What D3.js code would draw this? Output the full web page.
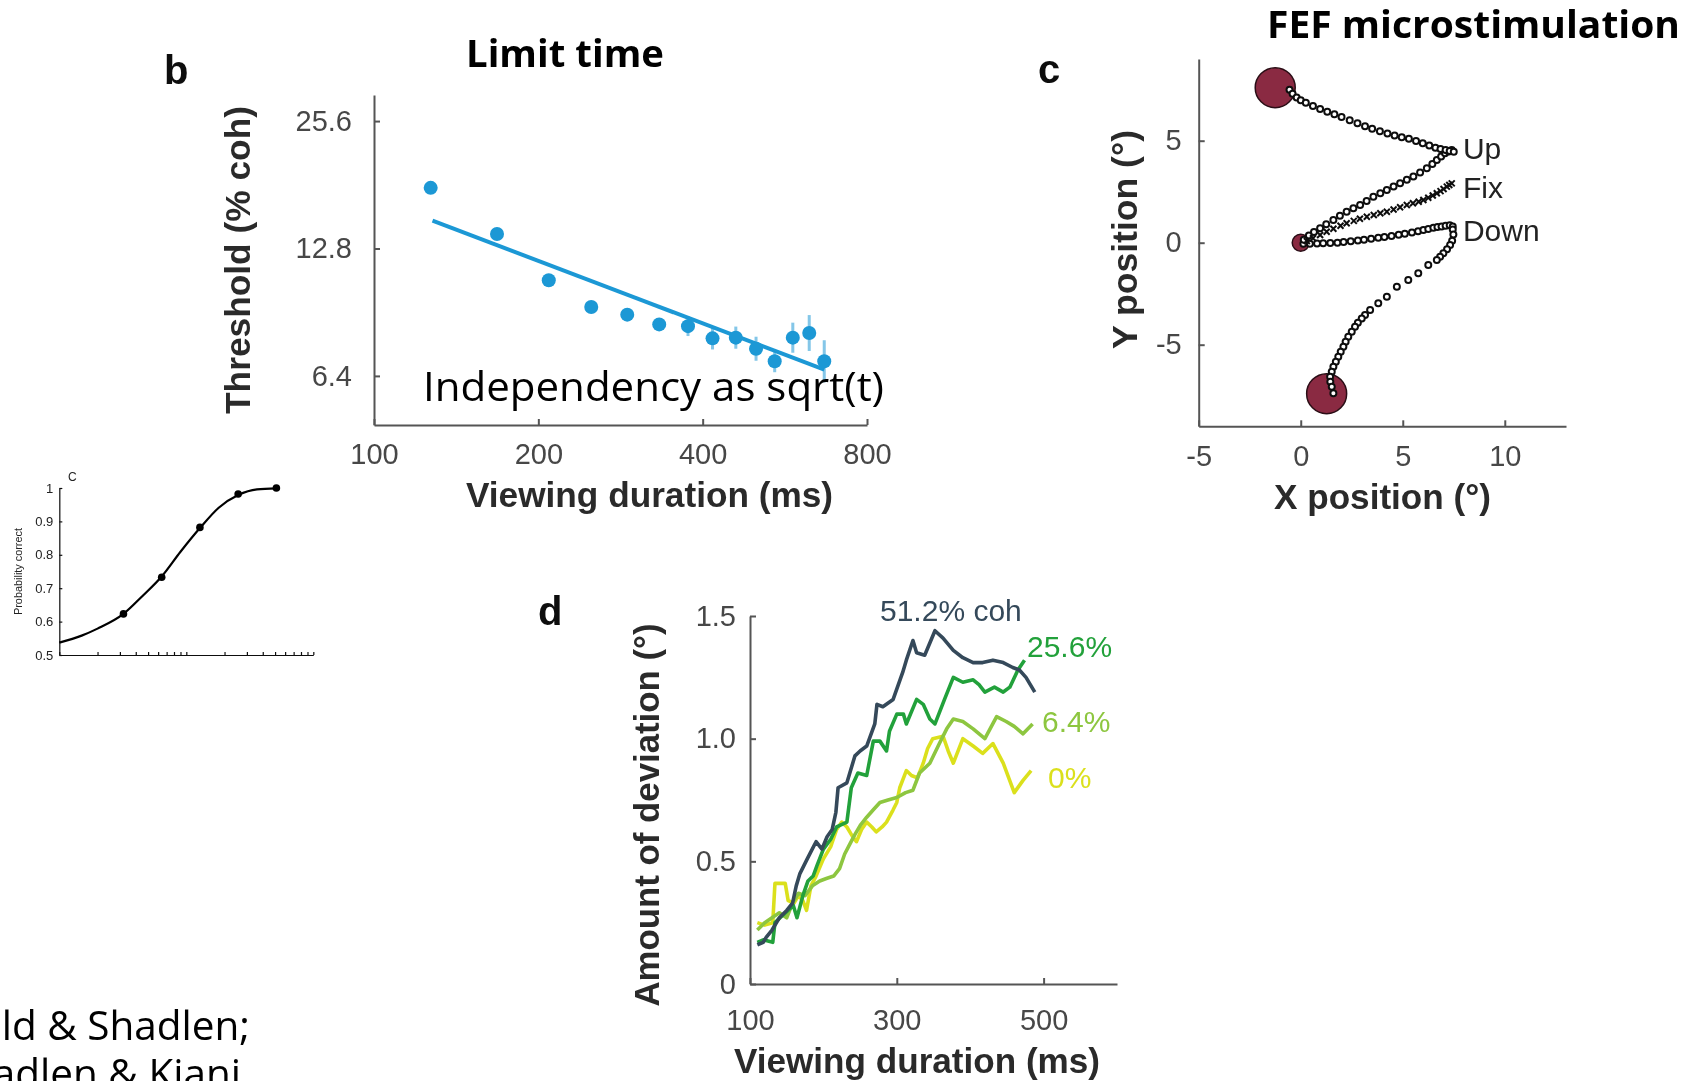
<!DOCTYPE html>
<html>
<head>
<meta charset="utf-8">
<script src="https://cdn.jsdelivr.net/npm/d3@7"></script>
<style>
  body { margin: 0; background: #fff; }
  svg { display: block; }
</style>
</head>
<body>
<svg id="fig" width="1700" height="1081"></svg>
<script>
// ---------- Panel b: threshold vs viewing duration (log-log) ----------
const bTickX = [100, 200, 400, 800];
const bTickY = [6.4, 12.8, 25.6];
const thresholdDur = [127, 168, 209, 250, 291, 333, 376, 417, 460, 501, 542, 585, 627, 668];
const thresholdCoh = [17.8, 13.85, 10.77, 9.31, 8.93, 8.47, 8.39, 7.85, 7.88, 7.42, 6.93, 7.88, 8.08, 6.93];
const thresholdLo  = [17.3, 13.45, 10.45, 9.03, 8.66, 8.21, 7.95, 7.39, 7.42, 6.95, 6.53, 7.26, 7.33, 6.18];
const thresholdHi  = [18.3, 14.25, 11.09, 9.59, 9.20, 8.73, 8.86, 8.34, 8.37, 7.92, 7.36, 8.55, 8.91, 7.77];
const fitDur = [128, 668];
const fitCoh = [14.9, 6.62];

// ---------- Panel C (small): psychometric function ----------
const psyCoh = [3.2, 6.4, 12.8, 25.6, 51.2];
const psyCorrect = [0.623, 0.733, 0.882, 0.982, 1.0];
const psyFitCoh = [1, 1.5, 2, 3.2, 4.5, 6.4, 9, 12.8, 18, 25.6, 36, 51.2];
const psyFitCorrect = [0.537, 0.558, 0.579, 0.623, 0.676, 0.735, 0.809, 0.880, 0.941, 0.979, 0.996, 0.999];
const psyTickY = [0.5, 0.6, 0.7, 0.8, 0.9, 1];
const psyTickX = [1, 2, 3, 4, 5, 6, 7, 8, 9, 10, 20, 30, 40, 50, 60, 70, 80, 90, 100];

// ---------- Panel c: FEF microstimulation eye trajectories ----------
const cTickX = [-5, 0, 5, 10];
const cTickY = [-5, 0, 5];
const targetX = [-1.25, 1.27, 0];
const targetY = [7.6, -7.4, 0];
const targetKind = ["target", "target", "fixation"];
const trajUpTarget = [[-0.55,7.5],[-0.4,7.3],[-0.2,7.12],[0.0,6.98],[0.25,6.86],[0.6,6.7],[0.95,6.55],[1.3,6.42],[1.65,6.3],[2.0,6.16],[2.4,6.0],[2.78,5.85],[3.15,5.71],[3.5,5.58],[3.88,5.46],[4.25,5.35],[4.6,5.26],[4.95,5.17],[5.3,5.09],[5.65,4.98],[5.98,4.87],[6.3,4.76],[6.6,4.66],[6.85,4.59],[7.1,4.54],[7.3,4.5],[7.5,4.46]];
const trajUp = [[0.15,0.15],[0.4,0.35],[0.65,0.52],[0.95,0.71],[1.25,0.9],[1.6,1.11],[1.92,1.32],[2.25,1.52],[2.58,1.69],[2.91,1.85],[3.23,2.05],[3.56,2.25],[3.9,2.42],[4.22,2.58],[4.55,2.75],[4.87,2.91],[5.2,3.08],[5.52,3.24],[5.85,3.44],[6.18,3.65],[6.45,3.86],[6.67,4.05],[6.88,4.22],[7.07,4.38],[7.25,4.47],[7.4,4.54]];
const trajFix = [[0.3,0.08],[0.6,0.22],[0.95,0.38],[1.27,0.54],[1.6,0.68],[1.95,0.83],[2.25,0.95],[2.6,1.07],[2.9,1.17],[3.24,1.27],[3.58,1.36],[3.9,1.44],[4.22,1.52],[4.55,1.63],[4.87,1.74],[5.2,1.85],[5.5,1.93],[5.78,2.01],[6.01,2.09],[6.25,2.2],[6.47,2.31],[6.67,2.42],[6.85,2.53],[7.0,2.63],[7.16,2.75],[7.28,2.83],[7.4,2.91]];
const trajDown = [[0.13,-0.05],[0.45,-0.05],[0.8,-0.04],[1.1,-0.03],[1.45,-0.02],[1.8,0.0],[2.1,0.03],[2.45,0.07],[2.8,0.11],[3.1,0.15],[3.45,0.19],[3.8,0.24],[4.1,0.28],[4.45,0.33],[4.8,0.39],[5.1,0.44],[5.45,0.5],[5.75,0.56],[6.01,0.62],[6.25,0.67],[6.5,0.73],[6.7,0.77],[6.9,0.8],[7.1,0.83],[7.3,0.85],[7.45,0.8]];
const trajDownTarget = [[7.45,0.65],[7.48,0.4],[7.42,0.1],[7.32,-0.11],[7.17,-0.32],[6.99,-0.52],[6.83,-0.69],[6.67,-0.85],[6.25,-1.09],[5.76,-1.5],[5.27,-1.83],[4.71,-2.16],[4.22,-2.65],[3.8,-2.97],[3.4,-3.3],[3.15,-3.55],[2.99,-3.71],[2.8,-3.93],[2.66,-4.12],[2.5,-4.37],[2.33,-4.61],[2.2,-4.85],[2.09,-5.1],[1.96,-5.35],[1.84,-5.59],[1.72,-5.83],[1.6,-6.08],[1.52,-6.33],[1.44,-6.57],[1.45,-6.82],[1.52,-7.06],[1.6,-7.38]];
const trajLabels = ["Up", "Fix", "Down"];
const trajLabelY = [4.1, 2.2, 0.1];

// ---------- Panel d: deviation vs viewing duration ----------
const dTickX = [100, 300, 500];
const dTickY = [0, 0.5, 1.0, 1.5];
const cohNames = ["51.2% coh", "25.6%", "6.4%", "0%"];
const coh512 = [[110,0.16],[118,0.17],[122,0.19],[130,0.22],[140,0.27],[150,0.30],[158,0.33],[163,0.40],[168,0.45],[178,0.51],[190,0.58],[198,0.55],[205,0.60],[212,0.63],[217,0.70],[220,0.80],[232,0.82],[243,0.93],[250,0.95],[259,0.97],[270,1.06],[273,1.14],[281,1.13],[295,1.16],[308,1.27],[313,1.32],[322,1.40],[327,1.35],[338,1.34],[352,1.44],[363,1.41],[377,1.36],[390,1.33],[404,1.31],[417,1.31],[431,1.32],[445,1.31],[458,1.29],[467,1.28],[476,1.25],[488,1.19]];
const coh256 = [[110,0.17],[118,0.18],[131,0.17],[134,0.25],[141,0.27],[148,0.29],[159,0.32],[164,0.27],[172,0.36],[179,0.42],[186,0.44],[191,0.48],[200,0.55],[210,0.59],[218,0.64],[232,0.66],[238,0.80],[247,0.86],[259,0.85],[268,0.99],[277,0.99],[286,0.95],[290,1.03],[300,1.10],[309,1.10],[313,1.06],[327,1.16],[336,1.14],[345,1.08],[352,1.06],[365,1.16],[377,1.25],[390,1.23],[404,1.24],[412,1.22],[420,1.19],[433,1.21],[445,1.19],[454,1.21],[465,1.28],[474,1.32]];
const coh64 = [[110,0.22],[120,0.25],[130,0.27],[140,0.29],[150,0.27],[158,0.33],[166,0.37],[175,0.36],[185,0.40],[195,0.42],[204,0.43],[214,0.44],[222,0.47],[229,0.53],[236,0.57],[243,0.61],[251,0.65],[259,0.68],[268,0.71],[277,0.74],[288,0.75],[300,0.76],[312,0.78],[322,0.79],[331,0.86],[345,0.90],[358,0.98],[368,1.04],[377,1.08],[390,1.07],[404,1.04],[420,1.00],[436,1.09],[449,1.07],[460,1.05],[472,1.02],[485,1.06]];
const coh0 = [[110,0.25],[120,0.24],[131,0.25],[134,0.41],[148,0.41],[152,0.34],[160,0.33],[166,0.36],[172,0.34],[177,0.30],[183,0.40],[190,0.44],[200,0.51],[210,0.56],[218,0.63],[225,0.66],[232,0.64],[240,0.60],[245,0.58],[252,0.63],[259,0.66],[266,0.64],[272,0.62],[280,0.64],[286,0.66],[295,0.71],[300,0.74],[304,0.80],[313,0.87],[320,0.85],[328,0.84],[336,0.90],[342,0.96],[349,1.00],[363,1.01],[370,0.95],[377,0.90],[390,1.00],[404,0.97],[417,0.94],[431,0.98],[445,0.90],[460,0.78],[472,0.83],[483,0.87]];

// ---------- drawing ----------
const svg = d3.select("#fig");
const AX = "'Liberation Sans', Arial, Helvetica, sans-serif";
const SLIDE = "'Open Sans', 'Noto Sans', sans-serif";
const plain = d => String(d);   // hyphen-minus for negative ticks

svg.append("defs").append("filter").attr("id", "soft")
  .attr("x", "-5%").attr("y", "-5%").attr("width", "110%").attr("height", "110%")
  .append("feGaussianBlur").attr("stdDeviation", 0.7);

function styleAxis(g, fontSize, color, lineColor, lineWidth) {
  g.select(".domain").attr("stroke", lineColor).attr("stroke-width", lineWidth);
  g.selectAll(".tick line").attr("stroke", lineColor).attr("stroke-width", lineWidth);
  g.selectAll(".tick text").attr("font-family", AX).attr("font-size", fontSize).attr("fill", color);
}

function label(parent, txt, x, y, opts) {
  const t = parent.append("text").attr("x", x).attr("y", y).text(txt)
    .attr("font-family", opts.family || AX)
    .attr("font-size", opts.size)
    .attr("font-weight", opts.weight || "normal")
    .attr("fill", opts.fill || "#222")
    .attr("text-anchor", opts.anchor || "start");
  if (opts.len) t.attr("textLength", opts.len).attr("lengthAdjust", "spacingAndGlyphs");
  if (opts.rotate) t.attr("transform", `rotate(${opts.rotate},${x},${y})`);
  return t;
}

// ---- Panel b ----
const gB = svg.append("g").attr("filter", "url(#soft)");
const bX = d3.scaleLog().domain([100, 800]).range([374, 867]);
const bY = d3.scaleLog().domain([4.9, 29.5]).range([425, 95]);
const blue = "#1b98d5";

gB.append("g").attr("transform", "translate(0,425)")
  .call(d3.axisBottom(bX).tickValues(bTickX).tickFormat(plain)
    .tickSizeInner(-6).tickSizeOuter(0).tickPadding(18))
  .call(g => styleAxis(g, 29, "#474747", "#555", 2));
gB.append("g").attr("transform", "translate(374,0)")
  .call(d3.axisLeft(bY).tickValues(bTickY).tickFormat(d3.format(".1f"))
    .tickSizeInner(-6).tickSizeOuter(0).tickPadding(22))
  .call(g => styleAxis(g, 29, "#474747", "#555", 2));

gB.append("path")
  .datum(fitDur.map((t, i) => [t, fitCoh[i]]))
  .attr("d", d3.line().x(d => bX(d[0])).y(d => bY(d[1])))
  .attr("fill", "none").attr("stroke", blue).attr("stroke-width", 4);

gB.append("g").selectAll("line").data(thresholdDur).join("line")
  .attr("x1", d => bX(d)).attr("x2", d => bX(d))
  .attr("y1", (d, i) => bY(thresholdLo[i])).attr("y2", (d, i) => bY(thresholdHi[i]))
  .attr("stroke", blue).attr("stroke-opacity", 0.55).attr("stroke-width", 3);
gB.append("g").selectAll("circle").data(thresholdDur).join("circle")
  .attr("cx", d => bX(d)).attr("cy", (d, i) => bY(thresholdCoh[i]))
  .attr("r", 7).attr("fill", blue);

label(gB, "b", 164, 84, { size: 40, weight: "bold", fill: "#111" });
label(gB, "Viewing duration (ms)", 649.5, 507, { size: 35, weight: "bold", fill: "#2b2b2b", anchor: "middle", len: 367 });
label(gB, "Threshold (% coh)", 250, 260, { size: 35, weight: "bold", fill: "#2b2b2b", anchor: "middle", len: 308, rotate: -90 });

// ---- Small panel C ----
const gS = svg.append("g").attr("filter", "url(#soft)");
const sX = d3.scaleLog().domain([1, 100]).range([59.3, 313.3]);
const sY = d3.scaleLinear().domain([0.5, 1]).range([655, 488]);

gS.append("g").attr("transform", "translate(0,655)")
  .call(d3.axisBottom(sX).tickValues(psyTickX).tickFormat("").tickSizeInner(-3).tickSizeOuter(0))
  .call(g => styleAxis(g, 13, "#222", "#111", 1.2));
gS.append("g").attr("transform", "translate(59.3,0)")
  .call(d3.axisLeft(sY).tickValues(psyTickY).tickFormat(d => d === 1 ? "1" : d3.format(".1f")(d))
    .tickSizeInner(-3).tickSizeOuter(0).tickPadding(6))
  .call(g => styleAxis(g, 13, "#222", "#111", 1.2));

gS.append("path")
  .datum(psyFitCoh.map((c, i) => [c, psyFitCorrect[i]]))
  .attr("d", d3.line().x(d => sX(d[0])).y(d => sY(d[1])).curve(d3.curveMonotoneX))
  .attr("fill", "none").attr("stroke", "#000").attr("stroke-width", 2.2);
gS.append("g").selectAll("circle").data(psyCoh).join("circle")
  .attr("cx", d => sX(d)).attr("cy", (d, i) => sY(psyCorrect[i]))
  .attr("r", 3.8).attr("fill", "#000");

label(gS, "C", 68, 481, { size: 12, fill: "#222" });
label(gS, "Probability correct", 22, 571.5, { size: 11, fill: "#222", anchor: "middle", len: 87, rotate: -90 });

// ---- Panel c ----
const gC = svg.append("g").attr("filter", "url(#soft)");
const cX = d3.scaleLinear().domain([-5, 13]).range([1198.7, 1566]);
const cY = d3.scaleLinear().domain([-9, 9]).range([426.3, 59.1]);

gC.append("g").attr("transform", "translate(0,426.3)")
  .call(d3.axisBottom(cX).tickValues(cTickX).tickFormat(plain)
    .tickSizeInner(-6).tickSizeOuter(0).tickPadding(19))
  .call(g => styleAxis(g, 29, "#474747", "#555", 2));
gC.append("g").attr("transform", "translate(1198.7,0)")
  .call(d3.axisLeft(cY).tickValues(cTickY).tickFormat(plain)
    .tickSizeInner(-6).tickSizeOuter(0).tickPadding(17))
  .call(g => styleAxis(g, 29, "#474747", "#555", 2));

const maroon = "#8a2a42";
gC.append("g").selectAll("circle").data(targetX).join("circle")
  .attr("cx", d => cX(d)).attr("cy", (d, i) => cY(targetY[i]))
  .attr("r", (d, i) => targetKind[i] === "target" ? 20 : 8.5)
  .attr("fill", maroon).attr("stroke", "#2a0f16").attr("stroke-width", 1.5);

function circleTrail(data) {
  gC.append("g").selectAll("circle").data(data).join("circle")
    .attr("cx", d => cX(d[0])).attr("cy", d => cY(d[1]))
    .attr("r", 3).attr("fill", "#fff").attr("stroke", "#111").attr("stroke-width", 2);
}
circleTrail(trajDown);
circleTrail(trajUp);
circleTrail(trajUpTarget);
circleTrail(trajDownTarget);
gC.append("g").selectAll("path").data(trajFix).join("path")
  .attr("transform", d => `translate(${cX(d[0])},${cY(d[1])})`)
  .attr("d", "M-3,-3L3,3M-3,3L3,-3")
  .attr("stroke", "#111").attr("stroke-width", 2);

gC.append("g").selectAll("text").data(trajLabels).join("text")
  .attr("x", cX(7.95)).attr("y", (d, i) => cY(trajLabelY[i]))
  .attr("font-family", AX).attr("font-size", 30).attr("fill", "#222")
  .text(d => d);

label(gC, "c", 1038, 83, { size: 40, weight: "bold", fill: "#111" });
label(gC, "X position (°)", 1382.5, 509, { size: 35, weight: "bold", fill: "#2b2b2b", anchor: "middle", len: 217 });
label(gC, "Y position (°)", 1137, 239.5, { size: 35, weight: "bold", fill: "#2b2b2b", anchor: "middle", len: 219, rotate: -90 });

// ---- Panel d ----
const gD = svg.append("g").attr("filter", "url(#soft)");
const dX = d3.scaleLinear().domain([100, 600]).range([750, 1117]);
const dY = d3.scaleLinear().domain([0, 1.5]).range([984, 616]);

gD.append("g").attr("transform", "translate(0,984)")
  .call(d3.axisBottom(dX).tickValues(dTickX).tickFormat(plain)
    .tickSizeInner(-6).tickSizeOuter(0).tickPadding(25))
  .call(g => styleAxis(g, 29, "#474747", "#555", 2));
gD.append("g").attr("transform", "translate(750,0)")
  .call(d3.axisLeft(dY).tickValues(dTickY).tickFormat(d => d === 0 ? "0" : d3.format(".1f")(d))
    .tickSizeInner(-6).tickSizeOuter(0).tickPadding(14))
  .call(g => styleAxis(g, 29, "#474747", "#555", 2));

const cohSeries = [coh512, coh256, coh64, coh0];
const cohColors = ["#34495a", "#22a13a", "#8dc63f", "#dbe01e"];
const cohLabelPos = [[880, 621], [1027, 657], [1042, 732], [1048, 788]];
const dLine = d3.line().x(d => dX(d[0])).y(d => dY(d[1]));
// draw the lowest-coherence trace first so the strong-motion traces sit on top
[3, 2, 1, 0].forEach(i => {
  gD.append("path").datum(cohSeries[i]).attr("d", dLine)
    .attr("fill", "none").attr("stroke", cohColors[i]).attr("stroke-width", 3.6)
    .attr("stroke-linejoin", "round");
});
cohNames.forEach((n, i) => {
  label(gD, n, cohLabelPos[i][0], cohLabelPos[i][1], { size: 30, fill: cohColors[i] });
});

label(gD, "d", 538, 625, { size: 40, weight: "bold", fill: "#111" });
label(gD, "Viewing duration (ms)", 917, 1073, { size: 35, weight: "bold", fill: "#2b2b2b", anchor: "middle", len: 366 });
label(gD, "Amount of deviation (°)", 659, 815, { size: 35, weight: "bold", fill: "#2b2b2b", anchor: "middle", len: 383, rotate: -90 });

// ---- Slide text ----
label(svg, "Limit time", 466, 67, { family: SLIDE, size: 38, weight: "bold", fill: "#000", len: 198 });
label(svg, "FEF microstimulation", 1267, 38, { family: SLIDE, size: 38, weight: "bold", fill: "#000", len: 413 });
label(svg, "Independency as sqrt(t)", 423, 401, { family: SLIDE, size: 40, fill: "#000", len: 461 });
label(svg, "Gold & Shadlen;", 250, 1040, { family: SLIDE, size: 40.5, fill: "#000", anchor: "end" });
label(svg, "Shadlen & Kiani", 241, 1088, { family: SLIDE, size: 40.5, fill: "#000", anchor: "end" });
</script>
</body>
</html>
